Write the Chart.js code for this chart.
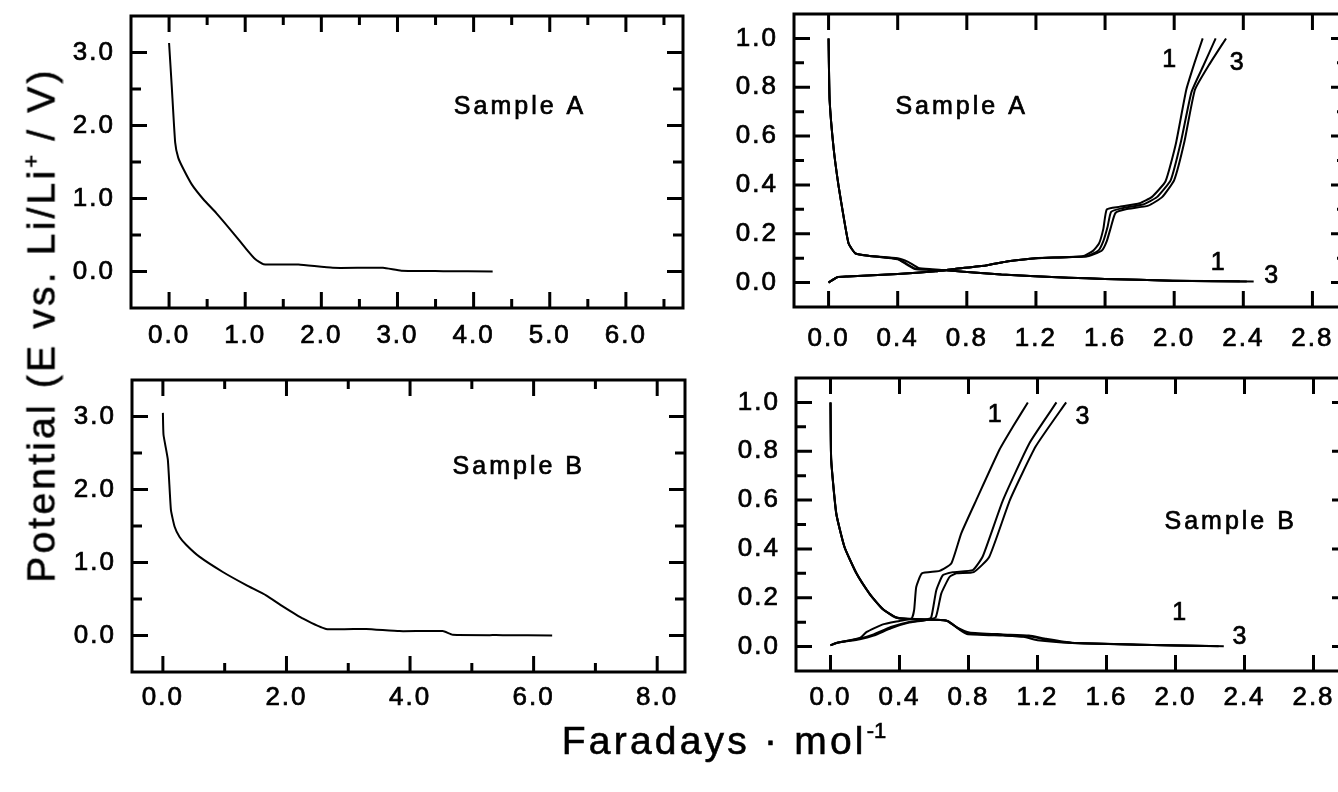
<!DOCTYPE html>
<html>
<head>
<meta charset="utf-8">
<script src="https://cdn.jsdelivr.net/npm/chart.js@4"></script>
<style>
  body { margin: 0; background: #fff; width: 1338px; height: 792px; overflow: hidden; position: relative;
         font-family: "Liberation Sans", Arial, sans-serif; }
  canvas { position: absolute; }
  .title { position: absolute; font-size: 39px; line-height: 39px; letter-spacing: 3.2px; color: #000;
           white-space: nowrap; -webkit-text-stroke: 0.6px #000; }
  .title sup { font-size: 22px; vertical-align: 16px; line-height: 0; letter-spacing: 0; }
  #ytitle { left: 41px; top: 325px; transform: translate(-50%, -50%) rotate(-90deg); }
  #xtitle { left: 724px; top: 721px; transform: translateX(-50%); }
</style>
</head>
<body>
<canvas id="tl"></canvas>
<canvas id="tr"></canvas>
<canvas id="bl"></canvas>
<canvas id="br"></canvas>
<div class="title" id="ytitle">Potential (E vs. Li/Li<sup>+</sup> / V)</div>
<div class="title" id="xtitle">Faradays · mol<sup>-1</sup></div>
<script>
// tick labels
var xTicksA = [0, 1, 2, 3, 4, 5, 6];
var xMinorA = [0.5, 1.5, 2.5, 3.5, 4.5, 5.5, 6.5];
var xTicksB = [0, 2, 4, 6, 8];
var xMinorB = [1, 3, 5, 7];
var yTicksLeft = [0, 1, 2, 3];
var yMinorLeft = [0.5, 1.5, 2.5];
var xTicksRight = [0, 0.4, 0.8, 1.2, 1.6, 2.0, 2.4, 2.8];
var yTicksRight = [0, 0.2, 0.4, 0.6, 0.8, 1.0];
var yMinorRight = [0.1, 0.3, 0.5, 0.7, 0.9];

// first discharge, left panels [F/mol, V]
var firstA = [[0,3.13],[0.035,2.54],[0.08,1.77],[0.12,1.56],[0.19,1.40],[0.30,1.19],[0.45,0.99],[0.62,0.80],
  [0.84,0.53],[1.02,0.30],[1.13,0.17],[1.24,0.10],[1.70,0.095],[2.15,0.05],[2.81,0.05],[3.05,0.01],[3.6,0.005],[4.25,0.0]];
var firstB = [[0,3.05],[0.01,2.75],[0.08,2.41],[0.13,1.72],[0.19,1.49],[0.27,1.35],[0.38,1.24],[0.59,1.08],
  [0.97,0.87],[1.35,0.69],[1.67,0.55],[1.94,0.40],[2.27,0.23],[2.64,0.09],[3.29,0.09],[3.83,0.06],[4.53,0.06],
  [4.69,0.01],[5.5,0.005],[6.3,0.0]];

// cycles 1-3, sample A
var dischA1 = [[0,1.0],[0.006,0.75],[0.03,0.545],[0.058,0.395],[0.087,0.27],[0.116,0.16],[0.155,0.12],[0.23,0.11],
  [0.40,0.10],[0.46,0.085],[0.52,0.06],[0.60,0.055],[0.68,0.05],[1.0,0.033],[1.39,0.02],[1.6,0.015],[1.99,0.008],[2.38,0.005]];
var dischA2 = [[0,1.0],[0.006,0.75],[0.03,0.545],[0.058,0.395],[0.087,0.27],[0.116,0.16],[0.155,0.12],[0.23,0.11],
  [0.40,0.097],[0.45,0.078],[0.50,0.058],[0.58,0.053],[0.68,0.05],[1.0,0.033],[1.39,0.02],[1.6,0.015],[1.99,0.008],[2.42,0.004]];
var dischA3 = [[0,1.0],[0.006,0.75],[0.03,0.545],[0.058,0.395],[0.087,0.27],[0.116,0.16],[0.155,0.12],[0.23,0.11],
  [0.40,0.095],[0.45,0.075],[0.50,0.055],[0.58,0.052],[0.68,0.05],[1.0,0.033],[1.39,0.02],[1.6,0.015],[1.99,0.008],[2.46,0.004]];
var chargeA1 = [[0,0.0],[0.05,0.022],[0.11,0.025],[0.40,0.035],[0.62,0.046],[0.73,0.056],[0.91,0.07],[1.04,0.087],
  [1.20,0.10],[1.47,0.108],[1.53,0.13],[1.565,0.16],[1.59,0.22],[1.61,0.30],[1.68,0.31],[1.80,0.325],[1.87,0.35],
  [1.95,0.415],[2.01,0.57],[2.07,0.79],[2.12,0.905],[2.165,1.0]];
var chargeA2 = [[0,0.0],[0.05,0.022],[0.11,0.025],[0.40,0.035],[0.62,0.046],[0.73,0.056],[0.91,0.07],[1.04,0.087],
  [1.20,0.10],[1.49,0.108],[1.56,0.13],[1.59,0.17],[1.615,0.23],[1.635,0.29],[1.70,0.305],[1.82,0.32],[1.90,0.35],
  [1.98,0.42],[2.04,0.58],[2.10,0.78],[2.17,0.89],[2.24,1.0]];
var chargeA3 = [[0,0.0],[0.05,0.022],[0.11,0.025],[0.40,0.035],[0.62,0.046],[0.73,0.056],[0.91,0.07],[1.04,0.087],
  [1.20,0.10],[1.50,0.108],[1.58,0.13],[1.61,0.17],[1.635,0.23],[1.66,0.285],[1.72,0.30],[1.85,0.315],[1.93,0.35],
  [2.00,0.42],[2.06,0.58],[2.12,0.79],[2.20,0.89],[2.30,1.0]];

// cycles 1-3, sample B
var dischB1 = [[0,1.0],[0.004,0.765],[0.033,0.546],[0.08,0.41],[0.15,0.30],[0.226,0.217],[0.30,0.155],[0.38,0.118],
  [0.458,0.114],[0.61,0.11],[0.67,0.107],[0.73,0.08],[0.805,0.058],[1.0,0.05],[1.15,0.045],[1.25,0.032],[1.40,0.016],
  [1.79,0.008],[2.20,0.002]];
var dischB2 = [[0,1.0],[0.004,0.765],[0.033,0.546],[0.08,0.41],[0.15,0.30],[0.226,0.217],[0.30,0.155],[0.38,0.12],
  [0.458,0.113],[0.61,0.11],[0.68,0.105],[0.74,0.075],[0.80,0.055],[1.0,0.047],[1.17,0.04],[1.25,0.028],[1.40,0.015],
  [1.79,0.008],[2.25,0.001]];
var dischB3 = [[0,1.0],[0.004,0.765],[0.035,0.54],[0.085,0.40],[0.155,0.295],[0.23,0.212],[0.31,0.15],[0.39,0.117],
  [0.458,0.112],[0.61,0.11],[0.68,0.104],[0.75,0.068],[0.79,0.052],[1.0,0.045],[1.12,0.04],[1.2,0.026],[1.40,0.015],
  [1.79,0.008],[2.28,0.001]];
var chargeB1 = [[0,0.005],[0.03,0.014],[0.17,0.035],[0.21,0.06],[0.30,0.09],[0.40,0.105],[0.47,0.115],[0.485,0.15],
  [0.497,0.244],[0.53,0.30],[0.632,0.31],[0.70,0.34],[0.758,0.464],[0.845,0.60],[0.98,0.807],[1.057,0.90],[1.144,1.0]];
var chargeB2 = [[0,0.005],[0.03,0.014],[0.17,0.033],[0.25,0.05],[0.35,0.08],[0.45,0.10],[0.55,0.11],[0.584,0.12],
  [0.613,0.23],[0.651,0.292],[0.71,0.305],[0.825,0.313],[0.883,0.37],[1.0,0.60],[1.154,0.834],[1.31,1.0]];
var chargeB3 = [[0,0.005],[0.03,0.014],[0.17,0.03],[0.25,0.045],[0.35,0.075],[0.45,0.097],[0.55,0.108],[0.61,0.12],
  [0.642,0.217],[0.69,0.285],[0.73,0.30],[0.83,0.305],[0.92,0.367],[1.04,0.60],[1.19,0.82],[1.366,1.0]];

// text placed in data coordinates
var notesTL = [["Sample A", 4.61, 2.25, 25]];
var notesBL = [["Sample B", 5.76, 2.3, 25]];
var notesTR = [["Sample A", 0.77, 0.72, 25], ["1", 1.98, 0.91, 25], ["3", 2.37, 0.90, 25],
  ["1", 2.26, 0.08, 25], ["3", 2.57, 0.025, 25]];
var notesBR = [["Sample B", 2.32, 0.51, 25], ["1", 0.96, 0.95, 25], ["3", 1.47, 0.94, 25],
  ["1", 2.03, 0.136, 25], ["3", 2.38, 0.04, 25]];

var FONT = '"Liberation Sans", Arial, sans-serif';

var framePlugin = {
  id: 'frame',
  beforeDraw: function (chart) { chart.ctx.letterSpacing = '2px'; },
  afterDraw: function (chart, args, o) {
    var ctx = chart.ctx, a = chart.chartArea, x = chart.scales.x, y = chart.scales.y;
    ctx.save();
    ctx.strokeStyle = '#000';
    ctx.lineWidth = 3;
    ctx.beginPath();
    function vt(vals, len) {
      vals.forEach(function (v) {
        var p = x.getPixelForValue(v);
        ctx.moveTo(p, a.bottom); ctx.lineTo(p, a.bottom - len);
        ctx.moveTo(p, a.top); ctx.lineTo(p, a.top + len);
      });
    }
    function ht(vals, len) {
      vals.forEach(function (v) {
        var p = y.getPixelForValue(v);
        ctx.moveTo(a.left, p); ctx.lineTo(a.left + len, p);
        ctx.moveTo(a.right, p); ctx.lineTo(a.right - len, p);
      });
    }
    vt(o.xMajor, 16); vt(o.xMinor, 9);
    ht(o.yMajor, 16); ht(o.yMinor, 10);
    ctx.stroke();
    ctx.strokeRect(a.left, a.top, a.right - a.left, a.bottom - a.top);
    ctx.fillStyle = '#000';
    ctx.textAlign = 'center';
    ctx.textBaseline = 'middle';
    ctx.letterSpacing = '3px';
    ctx.lineWidth = 0.7;
    o.notes.forEach(function (n) {
      var px = x.getPixelForValue(n[1]), py = y.getPixelForValue(n[2]);
      ctx.font = n[3] + 'px ' + FONT;
      ctx.fillText(n[0], px, py);
      ctx.strokeText(n[0], px, py);
    });
    ctx.restore();
  }
};

function makePanel(id, frame, xr, yr, xTicks, xMinor, yTicks, yMinor, xPad, series, notes) {
  var padL = 80, padT = 6, padR = 6, padB = 50;
  var cv = document.getElementById(id);
  cv.width = frame[2] - frame[0] + padL + padR;
  cv.height = frame[3] - frame[1] + padT + padB;
  cv.style.left = (frame[0] - padL) + 'px';
  cv.style.top = (frame[1] - padT) + 'px';
  var tickFont = { family: FONT, size: 26 };
  new Chart(cv.getContext('2d'), {
    type: 'line',
    data: {
      datasets: series.map(function (s) {
        return {
          data: s.map(function (p) { return { x: p[0], y: p[1] }; }),
          borderColor: '#000', borderWidth: 2, pointRadius: 0, tension: 0.15, fill: false
        };
      })
    },
    options: {
      responsive: false,
      animation: false,
      layout: { padding: { top: padT, right: padR, left: 0, bottom: 0 } },
      plugins: {
        legend: { display: false },
        tooltip: { enabled: false },
        frame: { xMajor: xTicks, xMinor: xMinor, yMajor: yTicks, yMinor: yMinor, notes: notes }
      },
      scales: {
        x: {
          type: 'linear', min: xr[0], max: xr[1],
          grid: { display: false, drawTicks: false }, border: { display: false },
          afterBuildTicks: function (s) { s.ticks = xTicks.map(function (v) { return { value: v }; }); },
          afterFit: function (s) { s.height = padB; s.paddingLeft = 0; s.paddingRight = 0; },
          ticks: { color: '#000', font: tickFont, padding: xPad, maxRotation: 0, autoSkip: false,
                   textStrokeColor: '#000', textStrokeWidth: 0.7,
                   callback: function (v) { return Number(v).toFixed(1); } }
        },
        y: {
          type: 'linear', min: yr[0], max: yr[1],
          grid: { display: false, drawTicks: false }, border: { display: false },
          afterBuildTicks: function (s) { s.ticks = yTicks.map(function (v) { return { value: v }; }); },
          afterFit: function (s) { s.width = padL; s.paddingTop = 0; s.paddingBottom = 0; },
          ticks: { color: '#000', font: tickFont, padding: 16, autoSkip: false,
                   textStrokeColor: '#000', textStrokeWidth: 0.7,
                   callback: function (v) { return Number(v).toFixed(1); } }
        }
      }
    },
    plugins: [framePlugin]
  });
}

makePanel('tl', [131, 16, 683, 308], [-0.5, 6.75], [-0.5, 3.5], xTicksA, xMinorA, yTicksLeft, yMinorLeft, 12,
  [firstA], notesTL);
makePanel('bl', [132, 380, 685, 672], [-0.5, 8.45], [-0.5, 3.5], xTicksB, xMinorB, yTicksLeft, yMinorLeft, 10,
  [firstB], notesBL);
makePanel('tr', [794, 14, 1347, 307], [-0.2, 3.0], [-0.1, 1.1], xTicksRight, [], yTicksRight, yMinorRight, 16,
  [dischA1, dischA2, dischA3, chargeA1, chargeA2, chargeA3], notesTR);
makePanel('br', [796, 378, 1348, 671], [-0.2, 3.0], [-0.1, 1.1], xTicksRight, [], yTicksRight, yMinorRight, 11,
  [dischB1, dischB2, dischB3, chargeB1, chargeB2, chargeB3], notesBR);
</script>
</body>
</html>
